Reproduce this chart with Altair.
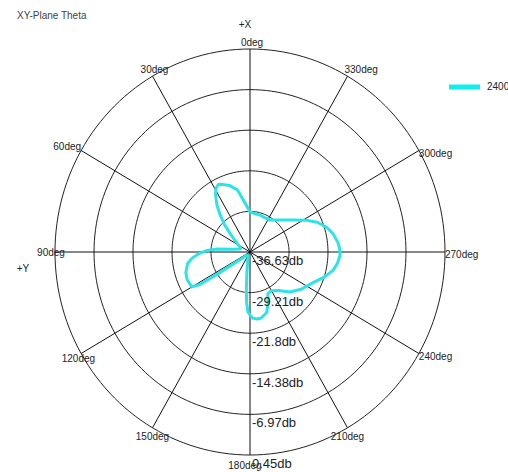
import altair as alt
import numpy as np
import pandas as pd

# ---------------- data ----------------
title_text = "XY-Plane Theta"
series_name = "2400"

# pattern: angle (deg, counter-clockwise from +X at top) and gain (dB)
angles = [0, 6, 12, 18, 23, 26, 29, 32, 36, 40, 44, 48, 53, 58, 64, 70, 76, 81, 85,
          88, 92, 96, 100, 107, 113, 120, 122, 123, 124, 126, 130, 140, 150, 160, 166,
          171, 174, 176, 178, 182, 186, 190, 196, 200, 204, 210, 218, 226, 235, 245,
          252, 258, 263, 268, 272, 276, 282, 287, 293, 298, 305, 312, 320, 327, 335,
          344, 352, 360]
gain_db = [-29.33, -27.62, -25.02, -23.84, -23.21, -22.91, -23.28, -24.28, -25.88,
           -27.80, -29.58, -31.48, -32.92, -33.85, -34.52, -34.78, -34.41, -33.29,
           -30.33, -28.47, -26.80, -25.51, -24.58, -23.87, -23.65, -23.87, -25.51, -29.21,
           -32.18, -34.41, -35.52, -35.89, -35.89, -35.52, -34.78, -32.92, -29.96,
           -27.36, -25.65, -24.58, -24.32, -24.39, -25.14, -26.62, -28.29, -28.47,
           -27.73, -26.10, -24.76, -23.39, -21.80, -20.50, -19.87, -19.50, -19.57,
           -19.83, -20.50, -21.35, -22.72, -24.32, -26.43, -27.88, -28.99, -29.66,
           -29.77, -29.62, -29.58, -29.33]

ring_db = [-36.63, -29.21, -21.8, -14.38, -6.97, 0.45]
ring_labels = ["-36.63db", "-29.21db", "-21.8db", "-14.38db", "-6.97db", "0.45db"]

spoke_angles = [0, 30, 60, 90, 120, 150, 180, 210, 240, 270, 300, 330]
spoke_labels = ["0deg", "30deg", "60deg", "90deg", "120deg", "150deg",
                "180deg", "210deg", "240deg", "270deg", "300deg", "330deg"]

DB_MIN, DB_MAX = ring_db[0], ring_db[-1]


def to_r(db):
    return (np.asarray(db, dtype=float) - DB_MIN) / (DB_MAX - DB_MIN)


def polar_xy(theta_deg, r):
    t = np.radians(np.asarray(theta_deg, dtype=float))
    return -r * np.sin(t), r * np.cos(t)


# pattern table
pr = to_r(gain_db)
px, py = polar_xy(angles, pr)
pattern = pd.DataFrame({"i": range(len(angles)), "x": px, "y": py})

# ring circles
circ_rows = []
ring_theta = np.arange(0, 361, 2)
for k, db in enumerate(ring_db[1:]):
    rr = float(to_r([db])[0])
    cx, cy = polar_xy(ring_theta, rr)
    for j in range(len(ring_theta)):
        circ_rows.append({"ring": k, "i": j, "x": cx[j], "y": cy[j]})
circles = pd.DataFrame(circ_rows)

# spokes
sx, sy = polar_xy(spoke_angles, 1.0)
spokes = pd.DataFrame({"x": 0.0, "y": 0.0, "x2": sx, "y2": sy,
                       "ang": spoke_angles, "label": spoke_labels})

# ring labels along downward axis
rl_r = to_r(ring_db)
ring_lab = pd.DataFrame({"x": 0.0, "y": -rl_r, "label": ring_labels})

# ---------------- scales ----------------
W, H = 508, 472
CX, CY = 250, 252
RX, RY = 195, 203
xs = alt.Scale(domain=[-CX / RX, (W - CX) / RX], nice=False, zero=False)
ys = alt.Scale(domain=[-(H - CY) / RY, CY / RY], nice=False, zero=False)
X = lambda f: alt.X(f, type="quantitative", scale=xs, axis=None)
Y = lambda f: alt.Y(f, type="quantitative", scale=ys, axis=None)

FONT = "Liberation Sans"

circle_layer = alt.Chart(circles).mark_line(color="#222222", strokeWidth=1).encode(
    x=X("x"), y=Y("y"), detail="ring:N", order="i:Q")

spoke_layer = alt.Chart(spokes).mark_rule(color="#111111", strokeWidth=1).encode(
    x=X("x"), y=Y("y"), x2="x2:Q", y2="y2:Q")

pattern_layer = alt.Chart(pattern).mark_line(
    color="#2CE3E8", strokeWidth=3, strokeJoin="round").encode(
    x=X("x"), y=Y("y"), order="i:Q")


def spoke_text(angle_list, align, baseline, dx, dy):
    return alt.Chart(spokes).transform_filter(
        alt.FieldOneOfPredicate(field="ang", oneOf=angle_list)
    ).mark_text(font=FONT, fontSize=10, color="#222222", align=align,
                baseline=baseline, dx=dx, dy=dy).encode(
        x=X("x2"), y=Y("y2"), text="label:N")


lab_top = spoke_text([0, 30], "center", "bottom", 2, -1)
lab_330 = spoke_text([330], "left", "bottom", -3, -1)
lab_lefttop = spoke_text([60], "right", "middle", 0, -4)
lab_90 = spoke_text([90], "center", "middle", -4, 1)
lab_120 = spoke_text([120], "right", "middle", 14, 5)
lab_right = spoke_text([240, 270, 300], "left", "middle", 0, 3)
lab_bottom = spoke_text([150, 210], "center", "top", 0, 4)
lab_180 = spoke_text([180], "center", "top", -5, 6)

ring_text = alt.Chart(ring_lab).mark_text(
    font=FONT, fontSize=13, color="#222222", align="left", baseline="top",
    dx=2, dy=3).encode(x=X("x"), y=Y("y"), text="label:N")

title_layer = alt.Chart(pd.DataFrame({"t": [title_text]})).mark_text(
    font=FONT, fontSize=10, color="#444444", align="left", baseline="middle").encode(
    x=alt.value(17), y=alt.value(16), text="t:N")

axis_names = pd.DataFrame({"t": ["+X", "+Y"], "px": [245, 23], "py": [25, 269]})
axis_name_layer = alt.Chart(axis_names).mark_text(
    font=FONT, fontSize=10, color="#222222", align="center", baseline="middle").encode(
    x=alt.X("px:Q", scale=None), y=alt.Y("py:Q", scale=None), text="t:N")

legend_line = alt.Chart(pd.DataFrame({"s": [series_name]})).mark_rule(
    color="#11EEF0", strokeWidth=5).encode(
    x=alt.value(449), x2=alt.value(480), y=alt.value(87))
legend_text = alt.Chart(pd.DataFrame({"s": [series_name]})).mark_text(
    font=FONT, fontSize=10, color="#222222", align="left", baseline="middle").encode(
    x=alt.value(487), y=alt.value(87), text="s:N")

chart = alt.layer(
    circle_layer, spoke_layer, pattern_layer,
    lab_top, lab_330, lab_lefttop, lab_90, lab_120, lab_right, lab_bottom, lab_180,
    ring_text, title_layer, axis_name_layer, legend_line, legend_text,
).properties(
    width=W, height=H, padding=0, autosize=alt.AutoSizeParams(type="none"),
    background="white",
).configure_view(strokeWidth=0)

chart.save("out.html", embed_options={"renderer": "svg", "actions": False})
